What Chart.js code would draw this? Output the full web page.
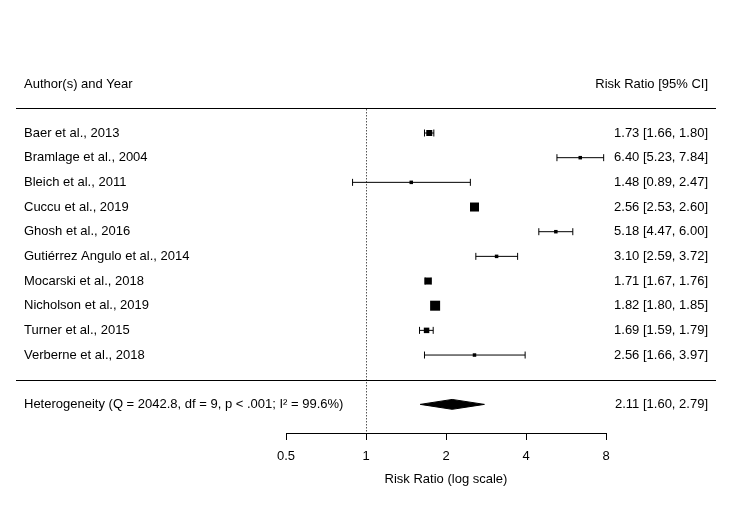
<!DOCTYPE html>
<html>
<head>
<meta charset="utf-8">
<script src="https://cdn.jsdelivr.net/npm/chart.js@4.4.1/dist/chart.umd.min.js"></script>
<style>
  body { margin: 0; background: #fff; }
  canvas { display: block; }
</style>
</head>
<body>
<canvas id="forest" width="731" height="509"></canvas>
<script>
// Study data (risk ratios with 95% CI)
const studies = ['Baer et al., 2013', 'Bramlage et al., 2004', 'Bleich et al., 2011', 'Cuccu et al., 2019',
    'Ghosh et al., 2016', 'Gutiérrez Angulo et al., 2014', 'Mocarski et al., 2018', 'Nicholson et al., 2019',
    'Turner et al., 2015', 'Verberne et al., 2018'];
const estimates = [1.73, 6.40, 1.48, 2.56, 5.18, 3.10, 1.71, 1.82, 1.69, 2.56];
const lower = [1.66, 5.23, 0.89, 2.53, 4.47, 2.59, 1.67, 1.80, 1.59, 1.66];
const upper = [1.80, 7.84, 2.47, 2.60, 6.00, 3.72, 1.76, 1.85, 1.79, 3.97];
// square side in px (weights)
const markerSize = [6, 3.5, 3.5, 9, 3.5, 3.5, 7, 10, 5.5, 3.5];

// Pooled estimate
const summaryLabel = 'Heterogeneity (Q = 2042.8, df = 9, p < .001; I² = 99.6%)';
const summaryEst = 2.11;
const summaryLower = 1.60;
const summaryUpper = 2.79;

const tickValues = [0.5, 1, 2, 4, 8];

const FONT = "'Liberation Sans', Arial, Helvetica, sans-serif";
const k = studies.length;
const rowY = studies.map((s, i) => k - i);
const summaryY = -1;

function fmt(v) { return v.toFixed(2); }

// CI whiskers, one line dataset per study
const ciSets = studies.map((s, i) => ({
    type: 'scatter',
    showLine: true,
    data: [{ x: lower[i], y: rowY[i] }, { x: upper[i], y: rowY[i] }],
    borderColor: '#000',
    borderWidth: 1,
    pointRadius: 0,
    clip: false,
    order: 3
}));

const capPoints = [];
studies.forEach((s, i) => {
    capPoints.push({ x: lower[i], y: rowY[i] });
    capPoints.push({ x: upper[i], y: rowY[i] });
});

// Table text + rules drawn around the plot
const tablePlugin = {
    id: 'tablePlugin',
    afterDraw(chart) {
        const ctx = chart.ctx;
        const xs = chart.scales.x;
        const ys = chart.scales.y;
        ctx.save();
        ctx.fillStyle = '#000';
        ctx.font = '13px ' + FONT;
        ctx.textBaseline = 'middle';

        const headY = ys.getPixelForValue(k + 2) + 1;
        ctx.textAlign = 'left';
        ctx.fillText('Author(s) and Year', 24, headY);
        ctx.textAlign = 'right';
        ctx.fillText('Risk Ratio [95% CI]', 708, headY);

        studies.forEach((name, i) => {
            const y = ys.getPixelForValue(rowY[i]);
            ctx.textAlign = 'left';
            ctx.fillText(name, 24, y);
            ctx.textAlign = 'right';
            ctx.fillText(fmt(estimates[i]) + ' [' + fmt(lower[i]) + ', ' + fmt(upper[i]) + ']', 708, y);
        });

        const sy = ys.getPixelForValue(summaryY);
        ctx.textAlign = 'left';
        ctx.fillText(summaryLabel, 24, sy);
        ctx.textAlign = 'right';
        ctx.fillText(fmt(summaryEst) + ' [' + fmt(summaryLower) + ', ' + fmt(summaryUpper) + ']', 708, sy);

        // horizontal rules
        ctx.strokeStyle = '#000';
        ctx.lineWidth = 1;
        [k + 1, 0].forEach(v => {
            const y = Math.round(ys.getPixelForValue(v)) + 0.5;
            ctx.beginPath();
            ctx.moveTo(16, y);
            ctx.lineTo(716, y);
            ctx.stroke();
        });

        // reference line at 1
        const x1 = Math.round(xs.getPixelForValue(1)) + 0.5;
        ctx.setLineDash([1, 2]);
        ctx.beginPath();
        ctx.moveTo(x1, ys.getPixelForValue(k + 1) + 1);
        ctx.lineTo(x1, chart.chartArea.bottom);
        ctx.stroke();
        ctx.restore();
    }
};

new Chart(document.getElementById('forest').getContext('2d'), {
    type: 'scatter',
    data: {
        datasets: [
            {
                // point estimates
                data: estimates.map((v, i) => ({ x: v, y: rowY[i] })),
                pointStyle: 'rect',
                pointRadius: markerSize.map(s => s / Math.SQRT2),
                backgroundColor: '#000',
                borderColor: '#000',
                borderWidth: 0,
                clip: false,
                order: 1
            },
            {
                // whisker caps
                data: capPoints,
                pointStyle: 'line',
                rotation: 90,
                pointRadius: 3.5,
                borderColor: '#000',
                borderWidth: 1,
                clip: false,
                order: 2
            },
            {
                // pooled diamond
                showLine: true,
                data: [
                    { x: summaryLower, y: summaryY },
                    { x: summaryEst, y: summaryY + 0.2 },
                    { x: summaryUpper, y: summaryY },
                    { x: summaryEst, y: summaryY - 0.2 },
                    { x: summaryLower, y: summaryY }
                ],
                tension: 0,
                fill: 'shape',
                backgroundColor: '#000',
                borderColor: '#000',
                borderWidth: 1,
                pointRadius: 0,
                clip: false,
                order: 1
            },
            ...ciSets
        ]
    },
    options: {
        responsive: false,
        animation: false,
        layout: { padding: { left: 286, right: 125, top: 59, bottom: 0 } },
        plugins: {
            legend: { display: false },
            tooltip: { enabled: false }
        },
        scales: {
            x: {
                type: 'logarithmic',
                min: 0.5,
                max: 8,
                afterBuildTicks: scale => { scale.ticks = tickValues.map(v => ({ value: v })); },
                afterFit: scale => { scale.height = 76; },
                ticks: {
                    color: '#000',
                    font: { family: FONT, size: 13 },
                    padding: 9,
                    maxRotation: 0,
                    autoSkip: false,
                    callback: v => String(v)
                },
                grid: {
                    display: true,
                    drawOnChartArea: false,
                    drawTicks: true,
                    tickLength: 7,
                    color: '#000'
                },
                border: { display: true, color: '#000', width: 1 },
                title: {
                    display: true,
                    text: 'Risk Ratio (log scale)',
                    color: '#000',
                    font: { family: FONT, size: 13 },
                    padding: { top: 4, bottom: 22 }
                }
            },
            y: {
                type: 'linear',
                display: false,
                min: -2.16,
                max: 13
            }
        }
    },
    plugins: [tablePlugin]
});
</script>
</body>
</html>
